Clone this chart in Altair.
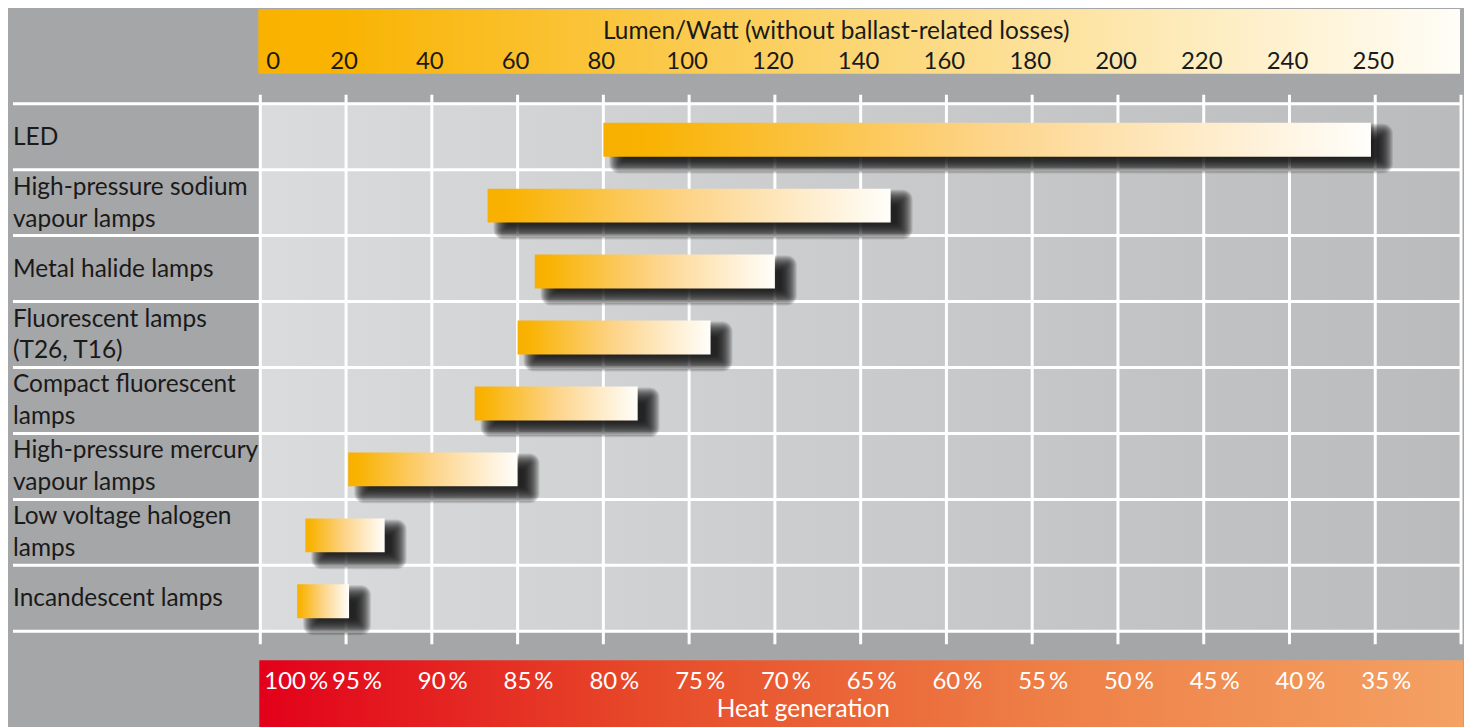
import altair as alt
import pandas as pd

# ---------------- data ----------------
lamps = [
    "LED",
    "High-pressure sodium\nvapour lamps",
    "Metal halide lamps",
    "Fluorescent lamps\n(T26, T16)",
    "Compact fluorescent\nlamps",
    "High-pressure mercury\nvapour lamps",
    "Low voltage halogen\nlamps",
    "Incandescent lamps",
]
lm_low = [80, 53, 64, 60, 50, 20.5, 10.5, 8.6]
lm_high = [249.5, 147, 120, 105, 88, 60, 29, 20.7]

lumen_ticks = [0, 20, 40, 60, 80, 100, 120, 140, 160, 180, 200, 220, 240, 250, 260]
lumen_labels = ["0", "20", "40", "60", "80", "100", "120", "140", "160", "180",
                "200", "220", "240", "250", ""]
heat_labels = ["100\u2009%", "95\u2009%", "90\u2009%", "85\u2009%", "80\u2009%", "75\u2009%",
               "70\u2009%", "65\u2009%", "60\u2009%", "55\u2009%", "50\u2009%", "45\u2009%",
               "40\u2009%", "35\u2009%", ""]

top_title = "Lumen/Watt (without ballast-related losses)"
bottom_title = "Heat generation"

# ---------------- tables ----------------
bars = pd.DataFrame({"lamp": lamps, "low": lm_low, "high": lm_high})
one_line = bars[~bars["lamp"].str.contains("\n")]
two_line = bars[bars["lamp"].str.contains("\n")]
ticks_df = pd.DataFrame({"v": lumen_ticks})
lum_first = pd.DataFrame({"v": lumen_ticks[:1], "lab": lumen_labels[:1]})
lum_rest = pd.DataFrame({"v": lumen_ticks[1:], "lab": lumen_labels[1:]})
heat_first = pd.DataFrame({"v": lumen_ticks[:1], "lab": heat_labels[:1]})
heat_rest = pd.DataFrame({"v": lumen_ticks[1:], "lab": heat_labels[1:]})
one = pd.DataFrame({"a": [0]})
last_lamp = pd.DataFrame({"lamp": [lamps[-1]]})

FONT = "Lato"
FS = 24.5
NFS = 24
W, H = 1204, 529
BAR_H = 34

xscale = alt.Scale(domain=[0, 240, 250, 260], range=[0, 1032, 1118, 1204],
                   nice=False, zero=False, type="linear")
yscale = alt.Scale(type="band", domain=lamps, paddingInner=0, paddingOuter=0)


def grad(stops):
    return {"gradient": "linear", "x1": 0, "x2": 1, "y1": 0, "y2": 0,
            "stops": [{"offset": o, "color": c} for o, c in stops]}


bar_grad = grad([(0, "#f8b000"), (0.05, "#f9b200"), (0.5, "#fdd489"), (1, "#fffefb")])
top_grad = grad([(0, "#f9b200"), (0.06, "#f9b300"), (1, "#fffdf7")])
bot_grad = grad([(0, "#e2001a"), (0.33, "#e74c2a"), (0.66, "#ee8047"), (1, "#f4a163")])
bg_grad = grad([(0, "#dadbdc"), (1, "#babbbd")])

# ---------------- layers ----------------
plot_bg = alt.Chart(one).mark_rect(fill=bg_grad).encode(
    x=alt.value(0), x2=alt.value(W), y=alt.value(0), y2=alt.value(H))

top_band = alt.Chart(one).mark_rect(fill=top_grad).encode(
    x=alt.value(-2), x2=alt.value(1203), y=alt.value(-95), y2=alt.value(-30))

bottom_band = alt.Chart(one).mark_rect(fill=bot_grad).encode(
    x=alt.value(-1), x2=alt.value(1206), y=alt.value(558), y2=alt.value(630))

hrules = alt.Chart(bars).mark_rule(color="white", strokeWidth=3).encode(
    y=alt.Y("lamp:N", bandPosition=0, scale=yscale, axis=None),
    x=alt.value(-248), x2=alt.value(W))

hrule_last = alt.Chart(last_lamp).mark_rule(color="white", strokeWidth=3).encode(
    y=alt.Y("lamp:N", bandPosition=1, scale=yscale, axis=None),
    x=alt.value(-248), x2=alt.value(W))

vrules = alt.Chart(ticks_df).mark_rule(color="white", strokeWidth=3).encode(
    x=alt.X("v:Q", scale=xscale,
            axis=alt.Axis(orient="bottom", values=lumen_ticks, labels=False,
                          ticks=False, domain=False, grid=False,
                          title=bottom_title, titleFont=FONT, titleFontSize=FS,
                          titleFontWeight="normal", titleColor="white",
                          titleX=544, titleY=85, titleAlign="center",
                          titleBaseline="alphabetic", zindex=1)),
    y=alt.value(-9), y2=alt.value(H + 13))


def tick_text(df, align, dx, y, color):
    return alt.Chart(df).mark_text(
        align=align, baseline="alphabetic", font=FONT, fontSize=NFS, color=color, dx=dx
    ).encode(x=alt.X("v:Q", scale=xscale, axis=None), y=alt.value(y), text="lab:N")


lum_text_first = tick_text(lum_first, "left", 6, -35, "#1a1a1a")
lum_text_rest = tick_text(lum_rest, "center", -2, -35, "#1a1a1a")
heat_text_first = tick_text(heat_first, "left", 4, 587, "white")
heat_text_rest = tick_text(heat_rest, "center", 11, 587, "white")

# soft drop shadow built from stacked translucent rectangles
shadow_layers = []
for d in range(-8, 9):
    shadow_layers.append(
        alt.Chart(bars).mark_bar(color="#111111", opacity=0.12, height=BAR_H + 2 * d,
                                 xOffset=14 - d, x2Offset=14 + d, yOffset=12,
                                 cornerRadius=max(d, 0) + 2).encode(
            x=alt.X("low:Q", scale=xscale, axis=None),
            x2="high:Q",
            y=alt.Y("lamp:N", scale=yscale, axis=None)))

bar_layer = alt.Chart(bars).mark_bar(fill=bar_grad, height=BAR_H, yOffset=3).encode(
    x=alt.X("low:Q", scale=xscale,
            axis=alt.Axis(orient="top", values=lumen_ticks, labels=False,
                          ticks=False, domain=False, grid=False,
                          title=top_title, titleFont=FONT, titleFontSize=FS,
                          titleFontWeight="normal", titleColor="#1a1a1a",
                          titleX=577, titleY=-65, titleAlign="center",
                          titleBaseline="alphabetic", zindex=1)),
    x2="high:Q",
    y=alt.Y("lamp:N", scale=yscale, axis=None))

text_one = alt.Chart(one_line).mark_text(
    align="left", baseline="middle", font=FONT, fontSize=FS, color="#1a1a1a",
    dy=1).encode(
    y=alt.Y("lamp:N", scale=yscale, axis=None),
    x=alt.value(-248),
    text="lamp:N")

text_two = alt.Chart(two_line).mark_text(
    align="left", baseline="middle", font=FONT, fontSize=FS, color="#1a1a1a",
    lineBreak="\n", lineHeight=32, dy=-15).encode(
    y=alt.Y("lamp:N", scale=yscale, axis=None),
    x=alt.value(-248),
    text="lamp:N")

chart = alt.layer(
    plot_bg, top_band, bottom_band, hrules, hrule_last, vrules,
    *shadow_layers, bar_layer, text_one, text_two,
    lum_text_first, lum_text_rest, heat_text_first, heat_text_rest
).resolve_axis(x="independent").properties(
    width=W, height=H,
    padding={"left": 253, "top": 95, "right": 3, "bottom": 95},
    autosize=alt.AutoSizeParams(type="none"),
).configure(background="#a5a6a8").configure_view(stroke=None)

chart.save("out.html", embed_options={"renderer": "svg", "actions": False})
